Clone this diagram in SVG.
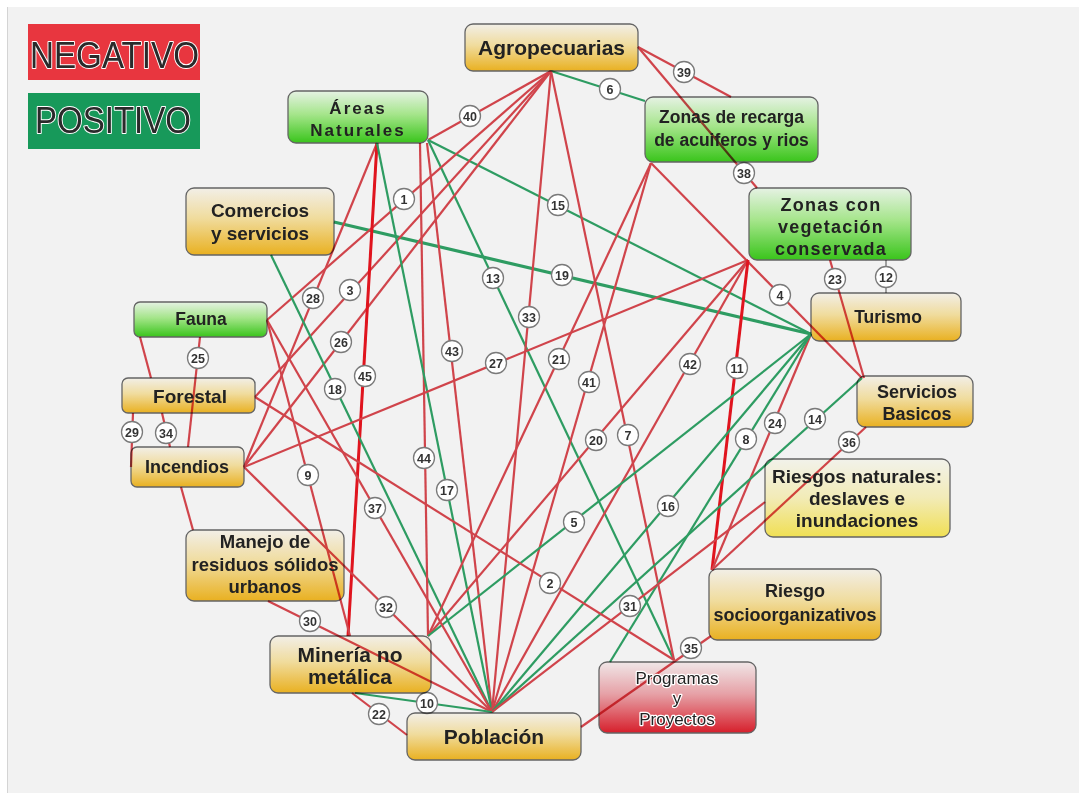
<svg xmlns="http://www.w3.org/2000/svg" width="1079" height="793" viewBox="0 0 1079 793">
<defs>
<linearGradient id="gy" x1="0" y1="0" x2="0" y2="1"><stop offset="0" stop-color="#fffcf4"/><stop offset="0.45" stop-color="#fde8a6"/><stop offset="1" stop-color="#f6ba22"/></linearGradient>
<linearGradient id="gp" x1="0" y1="0" x2="0" y2="1"><stop offset="0" stop-color="#fffff8"/><stop offset="0.5" stop-color="#fff8c0"/><stop offset="1" stop-color="#fdec58"/></linearGradient>
<linearGradient id="gg" x1="0" y1="0" x2="0" y2="1"><stop offset="0" stop-color="#f2fff0"/><stop offset="0.45" stop-color="#aef292"/><stop offset="1" stop-color="#3ccf1c"/></linearGradient>
<linearGradient id="gr" x1="0" y1="0" x2="0" y2="1"><stop offset="0" stop-color="#fdf3f4"/><stop offset="0.45" stop-color="#f3aab0"/><stop offset="1" stop-color="#e2202d"/></linearGradient>
<style>
.bx{stroke:#6a6a6a;stroke-width:1.3;mix-blend-mode:multiply}
.t{font-family:"Liberation Sans",Arial,sans-serif;font-weight:bold;fill:#222;text-anchor:middle}
.tr{font-family:"Liberation Sans",Arial,sans-serif;fill:#222;text-anchor:middle;stroke:#fff;stroke-width:2.5;paint-order:stroke;stroke-linejoin:round}
.lg{font-family:"Liberation Sans",Arial,sans-serif;fill:#2a2a2a;stroke:#fff;stroke-width:2;paint-order:stroke;stroke-linejoin:round;font-size:37px}
.r{stroke:#d0444b;stroke-width:2.2;fill:none}
.rb{stroke:#e0141e;stroke-width:3;fill:none}
.g{stroke:#2e9c62;stroke-width:2.2;fill:none}
.g3{stroke:#2e9c62;stroke-width:3.2;fill:none}
.gy{stroke:#8a8a8a;stroke-width:1.6;fill:none}
.lb circle{fill:#fff;stroke:#7a7a7a;stroke-width:1.3}
.lb text{font-family:"Liberation Sans",Arial,sans-serif;font-weight:bold;font-size:12.5px;fill:#333;text-anchor:middle}
</style>
</defs>
<rect width="1079" height="793" fill="#ffffff"/>
<rect x="7" y="7" width="1072" height="786" fill="#f2f2f2"/>
<line x1="7.5" y1="7" x2="7.5" y2="793" stroke="#d4d4d4" stroke-width="1"/>

<g id="legend">
<rect x="28" y="24" width="172" height="56" fill="#e8363f"/>
<text class="lg" x="30" y="68" textLength="169" lengthAdjust="spacingAndGlyphs">NEGATIVO</text>
<rect x="28" y="93" width="172" height="56" fill="#17995a"/>
<text class="lg" x="35" y="133" textLength="156" lengthAdjust="spacingAndGlyphs">POSITIVO</text>
</g>

<g id="connectors">
<line class="r" x1="428" y1="140" x2="551" y2="71"/>
<line class="g" x1="551" y1="71" x2="645" y2="101"/>
<line class="r" x1="638" y1="47" x2="731" y2="97"/>
<line class="r" x1="638" y1="47" x2="757" y2="188"/>
<line class="g" x1="428" y1="140" x2="811" y2="334"/>
<line class="g3" x1="334" y1="222" x2="811" y2="334"/>
<line class="g" x1="428" y1="140" x2="674" y2="660"/>
<line class="r" x1="267" y1="320" x2="551" y2="71"/>
<line class="r" x1="255" y1="397" x2="551" y2="71"/>
<line class="r" x1="244" y1="467" x2="551" y2="71"/>
<line class="r" x1="244" y1="467" x2="377" y2="143"/>
<line class="rb" x1="377" y1="143" x2="348" y2="636"/>
<line class="g" x1="271" y1="255" x2="492" y2="712"/>
<line class="r" x1="427" y1="143" x2="492" y2="712"/>
<line class="r" x1="420" y1="143" x2="428" y2="636"/>
<line class="g" x1="377" y1="143" x2="492" y2="712"/>
<line class="r" x1="551" y1="71" x2="492" y2="712"/>
<line class="r" x1="551" y1="71" x2="674" y2="660"/>
<line class="r" x1="244" y1="467" x2="748" y2="260"/>
<line class="r" x1="428" y1="636" x2="651" y2="163"/>
<line class="r" x1="492" y1="712" x2="651" y2="163"/>
<line class="r" x1="651" y1="163" x2="862" y2="378"/>
<line class="r" x1="748" y1="260" x2="492" y2="712"/>
<line class="r" x1="748" y1="260" x2="428" y2="636"/>
<line class="rb" x1="748" y1="260" x2="712" y2="570"/>
<line class="r" x1="830" y1="260" x2="864" y2="378"/>
<line class="gy" x1="886" y1="260" x2="886" y2="293"/>
<line class="r" x1="811" y1="334" x2="712" y2="570"/>
<line class="g" x1="862" y1="378" x2="492" y2="712"/>
<line class="g" x1="811" y1="334" x2="610" y2="662"/>
<line class="g" x1="811" y1="334" x2="492" y2="712"/>
<line class="g" x1="811" y1="334" x2="428" y2="636"/>
<line class="r" x1="866" y1="427" x2="712" y2="570"/>
<line class="r" x1="765" y1="502" x2="492" y2="712"/>
<line class="r" x1="711" y1="636" x2="581" y2="727"/>
<line class="r" x1="255" y1="397" x2="674" y2="660"/>
<line class="r" x1="267" y1="320" x2="350" y2="636"/>
<line class="r" x1="267" y1="320" x2="492" y2="712"/>
<line class="r" x1="244" y1="467" x2="492" y2="712"/>
<line class="r" x1="268" y1="601" x2="492" y2="712"/>
<line class="r" x1="352" y1="693" x2="407" y2="735"/>
<line class="g" x1="355" y1="693" x2="492" y2="712"/>
<line class="r" x1="200" y1="337" x2="188" y2="447"/>
<line class="r" x1="140" y1="337" x2="151" y2="378"/>
<line class="r" x1="133" y1="413" x2="131" y2="467"/>
<line class="r" x1="162" y1="413" x2="170" y2="447"/>
<line class="r" x1="181" y1="487" x2="193" y2="530"/>
<g class="lb">
<circle cx="404" cy="199" r="10.5"/><text x="404" y="203.5">1</text>
<circle cx="550" cy="583" r="10.5"/><text x="550" y="587.5">2</text>
<circle cx="350" cy="290" r="10.5"/><text x="350" y="294.5">3</text>
<circle cx="780" cy="295" r="10.5"/><text x="780" y="299.5">4</text>
<circle cx="574" cy="522" r="10.5"/><text x="574" y="526.5">5</text>
<circle cx="610" cy="89" r="10.5"/><text x="610" y="93.5">6</text>
<circle cx="628" cy="435" r="10.5"/><text x="628" y="439.5">7</text>
<circle cx="746" cy="439" r="10.5"/><text x="746" y="443.5">8</text>
<circle cx="308" cy="475" r="10.5"/><text x="308" y="479.5">9</text>
<circle cx="427" cy="703" r="10.5"/><text x="427" y="707.5">10</text>
<circle cx="737" cy="368" r="10.5"/><text x="737" y="372.5">11</text>
<circle cx="886" cy="277" r="10.5"/><text x="886" y="281.5">12</text>
<circle cx="493" cy="278" r="10.5"/><text x="493" y="282.5">13</text>
<circle cx="815" cy="419" r="10.5"/><text x="815" y="423.5">14</text>
<circle cx="558" cy="205" r="10.5"/><text x="558" y="209.5">15</text>
<circle cx="668" cy="506" r="10.5"/><text x="668" y="510.5">16</text>
<circle cx="447" cy="490" r="10.5"/><text x="447" y="494.5">17</text>
<circle cx="335" cy="389" r="10.5"/><text x="335" y="393.5">18</text>
<circle cx="562" cy="275" r="10.5"/><text x="562" y="279.5">19</text>
<circle cx="596" cy="440" r="10.5"/><text x="596" y="444.5">20</text>
<circle cx="559" cy="359" r="10.5"/><text x="559" y="363.5">21</text>
<circle cx="379" cy="714" r="10.5"/><text x="379" y="718.5">22</text>
<circle cx="835" cy="279" r="10.5"/><text x="835" y="283.5">23</text>
<circle cx="775" cy="423" r="10.5"/><text x="775" y="427.5">24</text>
<circle cx="198" cy="358" r="10.5"/><text x="198" y="362.5">25</text>
<circle cx="341" cy="342" r="10.5"/><text x="341" y="346.5">26</text>
<circle cx="496" cy="363" r="10.5"/><text x="496" y="367.5">27</text>
<circle cx="313" cy="298" r="10.5"/><text x="313" y="302.5">28</text>
<circle cx="132" cy="432" r="10.5"/><text x="132" y="436.5">29</text>
<circle cx="310" cy="621" r="10.5"/><text x="310" y="625.5">30</text>
<circle cx="630" cy="606" r="10.5"/><text x="630" y="610.5">31</text>
<circle cx="386" cy="607" r="10.5"/><text x="386" y="611.5">32</text>
<circle cx="529" cy="317" r="10.5"/><text x="529" y="321.5">33</text>
<circle cx="166" cy="433" r="10.5"/><text x="166" y="437.5">34</text>
<circle cx="691" cy="648" r="10.5"/><text x="691" y="652.5">35</text>
<circle cx="849" cy="442" r="10.5"/><text x="849" y="446.5">36</text>
<circle cx="375" cy="508" r="10.5"/><text x="375" y="512.5">37</text>
<circle cx="744" cy="173" r="10.5"/><text x="744" y="177.5">38</text>
<circle cx="684" cy="72" r="10.5"/><text x="684" y="76.5">39</text>
<circle cx="470" cy="116" r="10.5"/><text x="470" y="120.5">40</text>
<circle cx="589" cy="382" r="10.5"/><text x="589" y="386.5">41</text>
<circle cx="690" cy="364" r="10.5"/><text x="690" y="368.5">42</text>
<circle cx="452" cy="351" r="10.5"/><text x="452" y="355.5">43</text>
<circle cx="424" cy="458" r="10.5"/><text x="424" y="462.5">44</text>
<circle cx="365" cy="376" r="10.5"/><text x="365" y="380.5">45</text>
</g>
</g>

<g id="agropecuarias"><rect class="bx" x="465" y="24" width="173" height="47" rx="8" fill="url(#gy)"/><text class="t" x="551.5" y="55" font-size="21">Agropecuarias</text></g>
<g id="areas-naturales"><rect class="bx" x="288" y="91" width="140" height="52" rx="8" fill="url(#gg)"/><text class="t" x="358" y="114" font-size="17" letter-spacing="2">Áreas</text><text class="t" x="358" y="136" font-size="17" letter-spacing="2">Naturales</text></g>
<g id="zonas-recarga"><rect class="bx" x="645" y="97" width="173" height="65" rx="8" fill="url(#gg)"/><text class="t" x="731.5" y="123" font-size="17.5">Zonas de recarga</text><text class="t" x="731.5" y="146" font-size="17.5">de acuiferos y rios</text></g>
<g id="zonas-vegetacion"><rect class="bx" x="749" y="188" width="162" height="72" rx="8" fill="url(#gg)"/><text class="t" x="831" y="211" font-size="18" letter-spacing="1.2">Zonas con</text><text class="t" x="831" y="233" font-size="18" letter-spacing="1.2">vegetación</text><text class="t" x="831" y="255" font-size="18" letter-spacing="1.2">conservada</text></g>
<g id="comercios"><rect class="bx" x="186" y="188" width="148" height="67" rx="8" fill="url(#gy)"/><text class="t" x="260" y="217" font-size="19">Comercios</text><text class="t" x="260" y="240" font-size="19">y servicios</text></g>
<g id="fauna"><rect class="bx" x="134" y="302" width="133" height="35" rx="6" fill="url(#gg)"/><text class="t" x="201" y="325" font-size="17.5">Fauna</text></g>
<g id="turismo"><rect class="bx" x="811" y="293" width="150" height="48" rx="8" fill="url(#gy)"/><text class="t" x="888" y="323" font-size="17.5">Turismo</text></g>
<g id="forestal"><rect class="bx" x="122" y="378" width="133" height="35" rx="6" fill="url(#gy)"/><text class="t" x="190" y="403" font-size="19">Forestal</text></g>
<g id="servicios-basicos"><rect class="bx" x="857" y="376" width="116" height="51" rx="8" fill="url(#gy)"/><text class="t" x="917" y="398" font-size="18">Servicios</text><text class="t" x="917" y="420" font-size="18">Basicos</text></g>
<g id="incendios"><rect class="bx" x="131" y="447" width="113" height="40" rx="6" fill="url(#gy)"/><text class="t" x="187" y="473" font-size="18">Incendios</text></g>
<g id="riesgos-naturales"><rect class="bx" x="765" y="459" width="185" height="78" rx="8" fill="url(#gp)"/><text class="t" x="857" y="483" font-size="19">Riesgos naturales:</text><text class="t" x="857" y="505" font-size="19">deslaves e</text><text class="t" x="857" y="527" font-size="19">inundaciones</text></g>
<g id="manejo-residuos"><rect class="bx" x="186" y="530" width="158" height="71" rx="8" fill="url(#gy)"/><text class="t" x="265" y="548" font-size="18.5">Manejo de</text><text class="t" x="265" y="571" font-size="18.5">residuos sólidos</text><text class="t" x="265" y="593" font-size="18.5">urbanos</text></g>
<g id="riesgo-socio"><rect class="bx" x="709" y="569" width="172" height="71" rx="8" fill="url(#gy)"/><text class="t" x="795" y="597" font-size="18">Riesgo</text><text class="t" x="795" y="621" font-size="18">socioorganizativos</text></g>
<g id="mineria"><rect class="bx" x="270" y="636" width="161" height="57" rx="8" fill="url(#gy)"/><text class="t" x="350" y="662" font-size="21">Minería no</text><text class="t" x="350" y="684" font-size="21">metálica</text></g>
<g id="programas"><rect class="bx" x="599" y="662" width="157" height="71" rx="8" fill="url(#gr)"/><text class="tr" x="677" y="684" font-size="17">Programas</text><text class="tr" x="677" y="704" font-size="17">y</text><text class="tr" x="677" y="725" font-size="17">Proyectos</text></g>
<g id="poblacion"><rect class="bx" x="407" y="713" width="174" height="47" rx="8" fill="url(#gy)"/><text class="t" x="494" y="744" font-size="21">Población</text></g>
</svg>
